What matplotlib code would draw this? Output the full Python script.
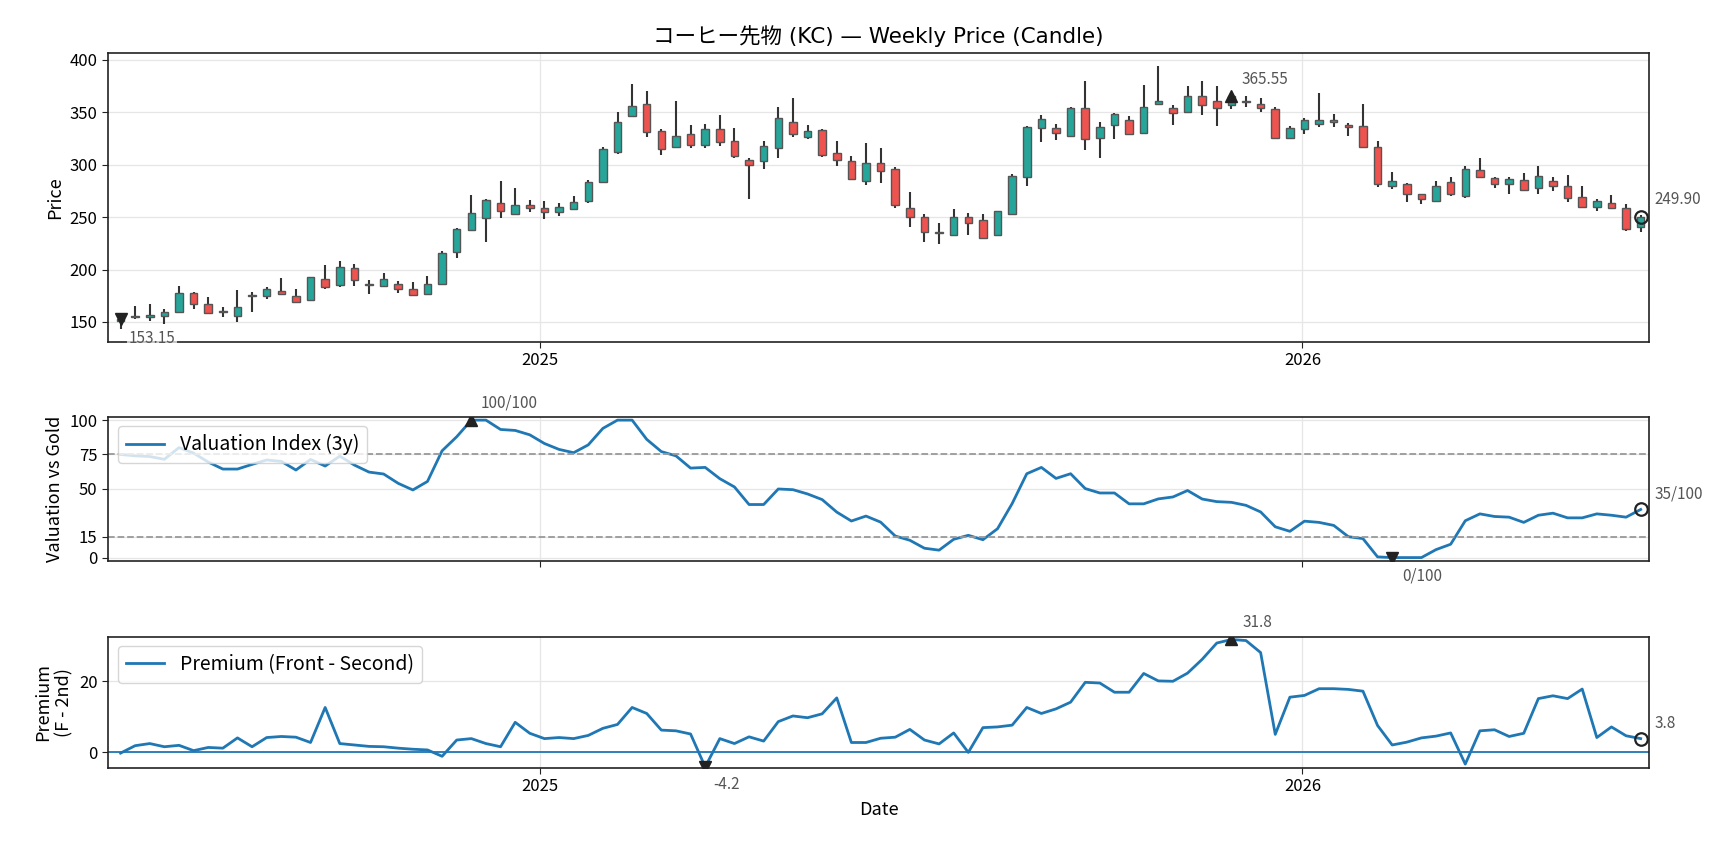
import numpy as np
import pandas as pd
import matplotlib
matplotlib.use("Agg")
import matplotlib.pyplot as plt
import matplotlib.dates as mdates

plt.rcParams['font.family'] = ['Noto Sans CJK JP', 'DejaVu Sans']

# ---------- data (weekly) ----------
dates = pd.date_range("2024-06-14", periods=105, freq="W-FRI")

opens = [151.0, 154.5, 154.5, 156.0, 159.6, 178.0, 167.6, 159.5, 156.0, 174.8,
         174.7, 179.8, 175.0, 170.8, 191.3, 185.0, 201.0, 185.5, 184.3, 186.5,
         181.0, 176.3, 186.2, 217.0, 237.8, 248.7, 263.5, 252.6, 261.5, 258.7,
         254.5, 258.0, 265.7, 283.7, 311.9, 346.5, 357.7, 331.7, 317.0, 328.8,
         318.9, 333.7, 322.0, 304.8, 303.5, 316.0, 340.7, 326.6, 332.7, 310.6,
         303.5, 284.6, 301.9, 295.5, 258.3, 250.0, 235.5, 233.3, 250.0, 247.1,
         233.3, 253.2, 288.5, 335.3, 334.6, 327.2, 353.8, 325.6, 338.1, 342.6,
         330.1, 358.0, 353.8, 349.7, 365.4, 360.9, 356.7, 361.0, 358.0, 352.9,
         325.3, 334.3, 339.1, 342.6, 338.1, 336.5, 316.3, 279.8, 281.7, 271.5,
         265.7, 283.7, 270.2, 295.2, 287.5, 281.4, 285.3, 277.6, 284.6, 279.8,
         269.2, 259.6, 263.5, 258.3, 240.5]
highs = [156.0, 165.0, 167.0, 162.0, 184.3, 178.3, 173.4, 163.8, 180.4, 178.2,
         183.0, 192.0, 181.4, 193.0, 204.5, 208.3, 205.4, 190.0, 196.5, 188.8,
         187.8, 194.0, 218.0, 239.4, 270.8, 267.6, 284.0, 277.6, 266.7, 265.7,
         263.8, 270.0, 285.0, 316.7, 349.7, 376.6, 370.0, 334.3, 360.3, 338.0,
         338.8, 346.8, 335.3, 306.0, 322.4, 354.5, 363.1, 337.8, 334.3, 322.4,
         308.0, 320.8, 316.0, 297.4, 273.4, 253.2, 243.9, 257.4, 253.5, 252.6,
         256.0, 291.0, 336.9, 347.4, 338.8, 354.8, 380.1, 340.7, 349.4, 346.5,
         375.6, 393.9, 357.0, 374.4, 380.1, 375.3, 366.0, 365.7, 363.8, 354.8,
         336.5, 344.2, 368.0, 347.8, 339.4, 357.4, 322.4, 292.6, 282.7, 272.4,
         284.0, 287.8, 298.4, 306.4, 288.1, 288.1, 291.7, 298.7, 288.1, 290.0,
         279.5, 267.6, 270.8, 262.2, 251.5]
lows = [143.7, 152.5, 151.0, 148.5, 158.7, 162.8, 158.0, 154.8, 150.0, 159.6,
        172.0, 176.0, 168.0, 170.2, 181.0, 183.7, 184.6, 176.6, 183.7, 177.2,
        174.4, 175.3, 186.0, 210.6, 237.5, 226.3, 249.0, 252.0, 254.8, 248.0,
        251.0, 256.7, 263.8, 282.0, 309.6, 345.5, 326.0, 308.7, 316.3, 315.7,
        315.7, 317.6, 306.7, 267.3, 296.2, 306.7, 326.0, 324.0, 307.0, 299.0,
        285.9, 281.0, 282.7, 259.0, 240.4, 226.0, 224.4, 233.0, 232.7, 230.0,
        233.0, 253.0, 279.8, 321.2, 323.0, 326.3, 313.5, 306.7, 324.0, 328.5,
        330.0, 356.7, 337.5, 349.5, 347.1, 336.5, 352.9, 354.8, 350.0, 324.7,
        324.0, 329.5, 335.6, 335.6, 326.9, 315.7, 278.8, 276.9, 264.4, 262.5,
        264.7, 269.6, 268.6, 287.2, 277.9, 271.5, 275.0, 271.5, 274.4, 264.4,
        259.0, 255.8, 258.3, 236.5, 235.6]
closes = [153.15, 155.5, 156.3, 159.6, 178.0, 167.0, 159.0, 160.0, 163.8, 175.5,
          181.1, 176.6, 168.6, 192.6, 183.0, 202.0, 190.0, 186.5, 190.7, 181.4,
          175.3, 186.5, 215.4, 238.5, 253.8, 266.3, 255.4, 261.5, 258.3, 254.5,
          259.6, 264.4, 283.7, 314.4, 340.4, 355.8, 331.4, 315.0, 326.9, 318.9,
          334.0, 321.8, 307.7, 300.0, 317.3, 344.2, 329.5, 331.7, 308.7, 304.5,
          286.2, 301.6, 293.9, 261.2, 250.3, 235.9, 234.5, 250.0, 243.9, 230.1,
          255.8, 288.8, 335.6, 343.6, 330.4, 353.8, 324.0, 335.6, 348.1, 328.8,
          354.8, 360.9, 348.7, 365.4, 356.7, 353.5, 365.55, 360.0, 353.5, 325.0,
          334.6, 342.6, 342.6, 340.1, 335.6, 316.7, 281.1, 284.6, 271.8, 267.0,
          279.8, 271.5, 296.2, 288.1, 281.4, 286.5, 275.6, 288.8, 279.8, 268.0,
          259.6, 265.4, 258.7, 238.8, 249.9]

valuation = [75, 74, 73.5, 71.5, 80, 76, 69.5, 64.4, 64.4, 67.8,
             71, 70, 63.7, 71.4, 66.6, 73.8, 67.3, 62.2, 60.8, 54,
             49.2, 55.4, 77.7, 87.9, 100, 100, 93.2, 92.5, 89.3, 83,
             78.7, 76.3, 82, 94, 100, 100, 86, 77.1, 74, 65.1,
             65.6, 57.4, 51.4, 38.6, 38.6, 49.9, 49.4, 46.3, 42.2, 33.1,
             26.6, 30.2, 25.8, 15.7, 12.6, 6.8, 5.4, 13.3, 16.2, 13,
             21, 39.3, 61, 65.6, 57.6, 61, 50.2, 47, 47, 39.1,
             39.1, 42.7, 44.1, 48.8, 42.6, 40.7, 40.2, 38, 33.2, 22.4,
             19.1, 26.5, 25.6, 23.4, 15.2, 13.8, 0.5, 0, 0, 0,
             5.8, 9.7, 26.8, 31.8, 29.9, 29.4, 25.6, 30.8, 32.3, 28.9,
             28.9, 31.8, 30.8, 29.4, 35]

premium = [-0.3, 1.8, 2.4, 1.5, 1.9, 0.4, 1.3, 1.1, 4.0, 1.5,
           4.1, 4.4, 4.2, 2.7, 12.6, 2.4, 2.0, 1.6, 1.5, 1.1,
           0.8, 0.6, -1.2, 3.4, 3.8, 2.4, 1.5, 8.4, 5.3, 3.8,
           4.1, 3.8, 4.7, 6.7, 7.8, 12.6, 10.9, 6.2, 6.0, 5.1,
           -4.2, 3.8, 2.4, 4.3, 3.1, 8.6, 10.2, 9.7, 10.8, 15.3,
           2.7, 2.7, 3.9, 4.2, 6.4, 3.4, 2.3, 5.4, -0.1, 6.9,
           7.1, 7.6, 12.6, 10.9, 12.2, 14.1, 19.7, 19.5, 16.9, 16.9,
           22.2, 20.1, 20.0, 22.3, 26.2, 30.8, 31.8, 31.5, 28.1, 5.0,
           15.5, 16.0, 17.9, 17.9, 17.7, 17.2, 7.5, 2.0, 2.8, 4.0,
           4.5, 5.4, -3.4, 6.0, 6.3, 4.4, 5.3, 15.1, 15.9, 15.1,
           17.8, 4.1, 7.1, 4.6, 3.8]

UP, DOWN = "#26a69a", "#ef5350"
GRID = "#e6e6e6"
NOTE = "#555555"


def style(ax):
    ax.grid(True, color=GRID, linewidth=0.9)
    ax.set_axisbelow(True)
    for s in ax.spines.values():
        s.set_color("#222222")
        s.set_linewidth(1.2)
    ax.tick_params(labelsize=12, color="#222222", length=4)
    ax.xaxis.set_major_locator(mdates.YearLocator())
    ax.xaxis.set_major_formatter(mdates.DateFormatter("%Y"))


def mark(ax, x, y, kind, text, dx, dy):
    if kind == "o":
        ax.plot([x], [y], marker="o", ms=9, mfc="none", mec="#222222", mew=1.6, zorder=6)
    else:
        ax.plot([x], [y], marker=kind, ms=9, color="#222222", zorder=6)
    ax.annotate(text, (x, y), xytext=(dx, dy), textcoords="offset points",
                fontsize=11, color=NOTE, va="center", ha="left",
                bbox=dict(boxstyle="square,pad=0.1", fc="white", ec="none", alpha=0.7))


x = mdates.date2num(dates.to_pydatetime())
o, h, l, c = map(np.asarray, (opens, highs, lows, closes))
val = np.asarray(valuation, dtype=float)
prem = np.asarray(premium, dtype=float)
xlim = (x[0] - 6, x[-1] + 4)

fig = plt.figure(figsize=(17.28, 8.49), dpi=100)
ax1 = fig.add_axes([0.0625, 0.5975, 0.8918, 0.3402])
ax2 = fig.add_axes([0.0625, 0.3392, 0.8918, 0.170])
ax3 = fig.add_axes([0.0625, 0.0958, 0.8918, 0.1543])

# ---------- candles ----------
colors = np.where(c >= o, UP, DOWN)
ax1.vlines(x, l, h, color="#333333", linewidth=1.5, zorder=2)
body = np.maximum(np.abs(c - o), 0.8)
ax1.bar(x, body, bottom=np.minimum(o, c), width=3.6, color=colors,
        edgecolor="#555555", linewidth=1.0, zorder=3)
style(ax1)
ax1.set_xlim(xlim)
ax1.set_ylabel("Price", fontsize=13)
ax1.set_title("コーヒー先物 (KC) — Weekly Price (Candle)", fontsize=15.5, pad=7,
              family=['DejaVu Sans', 'Noto Sans CJK JP'])
i_lo, i_hi = int(np.argmin(c)), int(np.argmax(c))
mark(ax1, x[i_lo], c[i_lo], "v", f"{c[i_lo]:.2f}", 6, -14)
mark(ax1, x[i_hi], c[i_hi], "^", f"{c[i_hi]:.2f}", 7, 12)
mark(ax1, x[-1], c[-1], "o", f"{c[-1]:.2f}", 10, 13)

# ---------- valuation ----------
ax2.plot(x, val, color="#1f77b4", linewidth=2, label="Valuation Index (3y)")
for lvl in (75, 15):
    ax2.axhline(lvl, color="#999999", linestyle="--", linewidth=1.3)
style(ax2)
ax2.set_xlim(xlim)
ax2.set_ylim(-2.5, 102.5)
ax2.set_yticks([0, 15, 50, 75, 100])
ax2.tick_params(axis="x", labelbottom=False)
ax2.set_ylabel("Valuation vs Gold", fontsize=13)
ax2.legend(loc="upper left", fontsize=14, framealpha=0.8)
j_lo, j_hi = int(np.argmin(val)), int(np.argmax(val))
mark(ax2, x[j_hi], val[j_hi], "^", f"{val[j_hi]:.0f}/100", 7, 12)
mark(ax2, x[j_lo], val[j_lo], "v", f"{val[j_lo]:.0f}/100", 7, -13)
mark(ax2, x[-1], val[-1], "o", f"{val[-1]:.0f}/100", 10, 11)

# ---------- premium ----------
ax3.plot(x, prem, color="#1f77b4", linewidth=2, label="Premium (Front - Second)")
ax3.axhline(0, color="#1f77b4", linewidth=1.3)
style(ax3)
ax3.set_xlim(xlim)
ax3.set_ylim(-4.41, 32.6)
ax3.set_yticks([0, 20])
ax3.set_ylabel("Premium\n(F - 2nd)", fontsize=13)
ax3.set_xlabel("Date", fontsize=13)
ax3.legend(loc="upper left", fontsize=14, framealpha=0.8)
k_lo, k_hi = int(np.argmin(prem)), int(np.argmax(prem))
mark(ax3, x[k_hi], prem[k_hi], "^", f"{prem[k_hi]:.1f}", 8, 12)
mark(ax3, x[k_lo], prem[k_lo], "v", f"{prem[k_lo]:.1f}", 6, -13)
mark(ax3, x[-1], prem[-1], "o", f"{prem[-1]:.1f}", 10, 11)

fig.savefig("out.png", dpi=100)
